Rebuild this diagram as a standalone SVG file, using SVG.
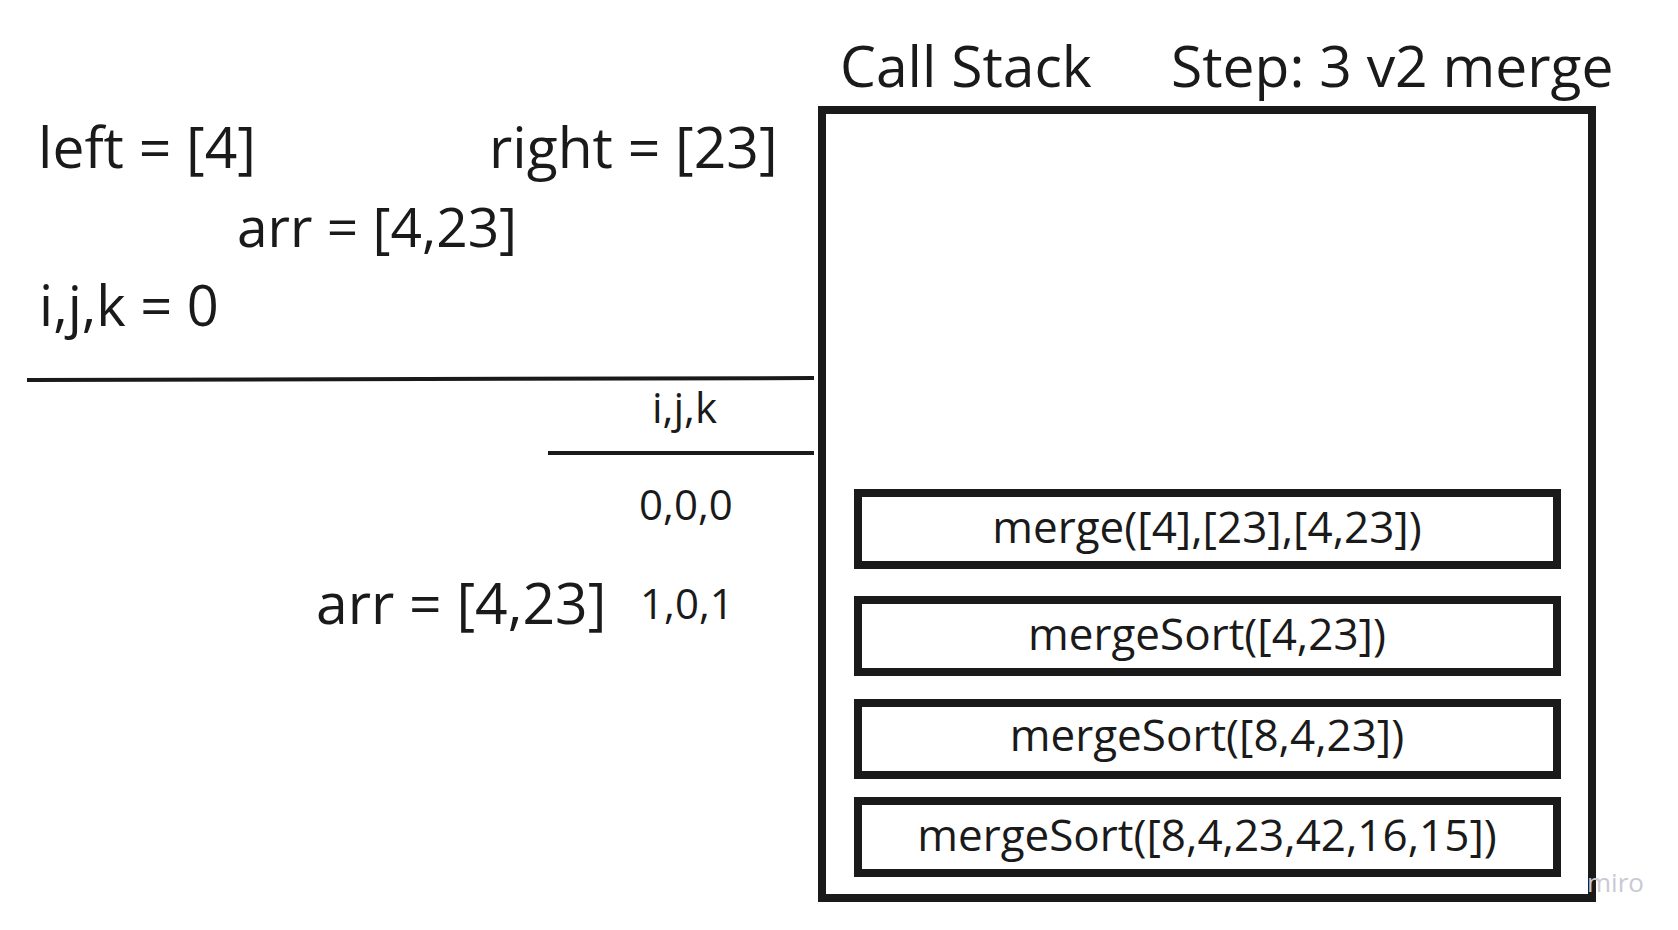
<svg xmlns="http://www.w3.org/2000/svg" width="1678" height="930" viewBox="0 0 1678 930">
<style>
text{font-family:"Open Sans","Noto Sans","DejaVu Sans",sans-serif;fill:#1a1a1a}
.big{font-size:57px}
.med{font-size:44px}
.sm{font-size:42px}
.frame{fill:#fff;stroke:#1a1a1a;stroke-width:8}
.rule{stroke:#1a1a1a;stroke-width:4}
.lbl{text-anchor:middle}
</style>
<rect width="1678" height="930" fill="#fff"/>
<g id="titles">
<text class="big" x="840" y="87">Call Stack</text>
<text class="big" x="1171" y="87">Step: 3 v2 merge</text>
</g>
<g id="vars">
<text class="big" x="38" y="168">left = [4]</text>
<text class="big" x="489" y="168">right = [23]</text>
<text class="big" x="237" y="247" style="font-size:55px">arr = [4,23]</text>
<text class="big" x="39" y="326" style="font-size:56px">i,j,k = 0</text>
<text class="big" x="316" y="624">arr = [4,23]</text>
<text class="sm" x="652" y="423">i,j,k</text>
<text class="sm" x="639" y="520">0,0,0</text>
<text class="sm" x="640" y="619">1,0,1</text>
</g>
<g id="rules">
<line class="rule" x1="27" y1="380" x2="814" y2="378"/>
<line class="rule" x1="548" y1="453" x2="814" y2="453"/>
</g>
<g id="callstack">
<rect class="frame" x="822" y="110" width="770" height="788"/>
</g>
<g id="frame1">
<rect class="frame" x="858" y="493" width="699" height="72"/>
<text class="med lbl" x="1207" y="543">merge([4],[23],[4,23])</text>
</g>
<g id="frame2">
<rect class="frame" x="858" y="600" width="699" height="72"/>
<text class="med lbl" x="1207" y="650">mergeSort([4,23])</text>
</g>
<g id="frame3">
<rect class="frame" x="858" y="703" width="699" height="72"/>
<text class="med lbl" x="1207" y="751">mergeSort([8,4,23])</text>
</g>
<g id="frame4">
<rect class="frame" x="858" y="801" width="699" height="72"/>
<text class="med lbl" x="1207" y="851">mergeSort([8,4,23,42,16,15])</text>
</g>
<g id="watermark">
<text x="1587" y="892" style="font-size:26px;fill:#c9c9d4">miro</text>
</g>
</svg>
